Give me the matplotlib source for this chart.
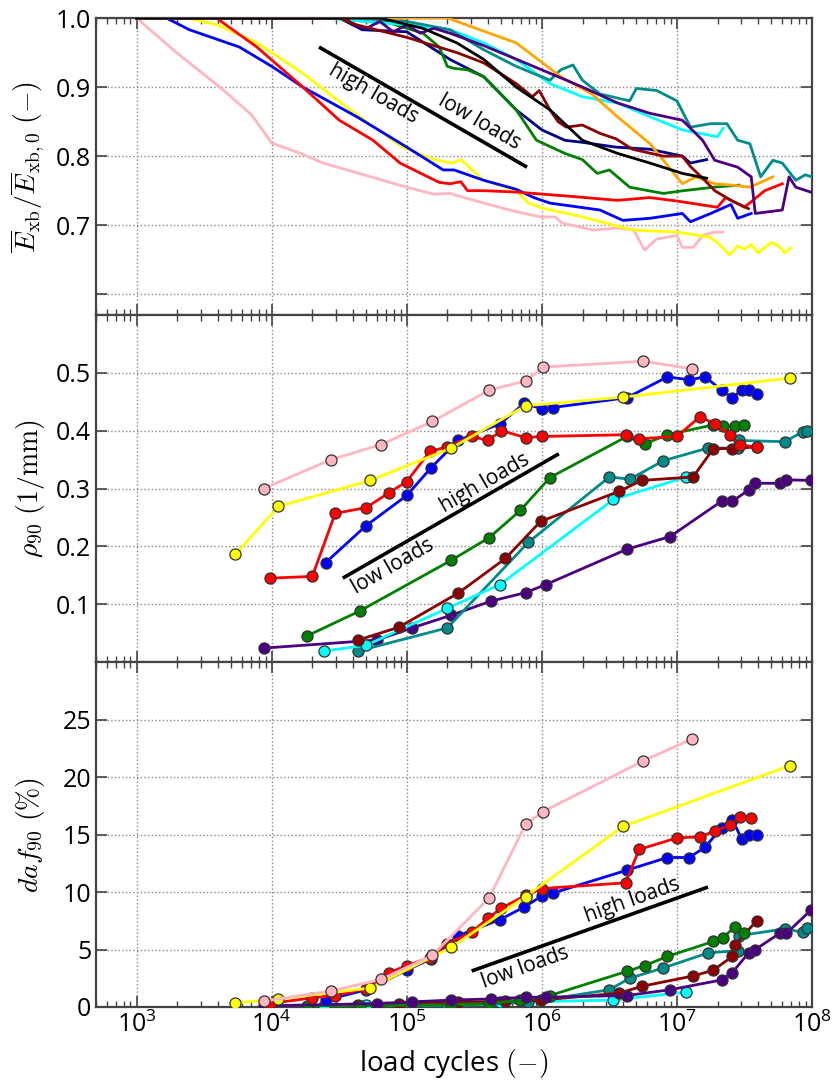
import numpy as np
import matplotlib
matplotlib.use("Agg")
import matplotlib.pyplot as plt
from matplotlib.ticker import LogLocator, NullFormatter

plt.rcParams['font.family'] = ['Open Sans', 'DejaVu Sans']
plt.rcParams['mathtext.fontset'] = 'cm'

# ---------------- data (x given as log10 of load cycles) ----------------
# top panel: normalised stiffness
top_pink_lx = [3.0, 3.27, 3.64, 3.85, 4.0, 4.2, 4.38, 4.7, 5.0, 5.2, 5.32, 5.57, 5.8, 5.99, 6.1, 6.15, 6.38, 6.56, 6.68, 6.76, 6.85, 7.0, 7.04, 7.12, 7.19, 7.27, 7.34]
top_pink_y = [1.0, 0.954, 0.896, 0.86, 0.819, 0.805, 0.79, 0.772, 0.755, 0.745, 0.746, 0.732, 0.72, 0.712, 0.712, 0.703, 0.693, 0.696, 0.693, 0.664, 0.68, 0.685, 0.668, 0.668, 0.685, 0.69, 0.69]

top_yellow_lx = [3.37, 3.6, 3.89, 4.23, 4.58, 4.97, 5.2, 5.34, 5.4, 5.57, 5.81, 5.9, 6.0, 6.3, 6.67, 7.0, 7.24, 7.3, 7.39, 7.45, 7.5, 7.55, 7.6, 7.7, 7.75, 7.8, 7.84]
top_yellow_y = [1.0, 0.99, 0.964, 0.92, 0.867, 0.813, 0.795, 0.79, 0.795, 0.765, 0.75, 0.732, 0.725, 0.712, 0.693, 0.69, 0.683, 0.675, 0.657, 0.67, 0.665, 0.672, 0.66, 0.675, 0.67, 0.66, 0.667]

top_blue_lx = [3.22, 3.39, 3.76, 4.0, 4.23, 4.63, 5.0, 5.27, 5.35, 5.57, 5.81, 5.94, 6.06, 6.43, 6.6, 6.8, 7.04, 7.1, 7.25, 7.4, 7.45, 7.55]
top_blue_y = [1.0, 0.983, 0.958, 0.93, 0.90, 0.857, 0.813, 0.78, 0.78, 0.765, 0.752, 0.74, 0.732, 0.722, 0.707, 0.71, 0.717, 0.705, 0.717, 0.73, 0.71, 0.717]

top_red_lx = [3.59, 3.89, 4.23, 4.5, 4.75, 4.95, 5.24, 5.32, 5.4, 5.45, 5.57, 5.81, 6.2, 6.56, 6.8, 7.0, 7.3, 7.36, 7.5, 7.65, 7.78]
top_red_y = [1.0, 0.958, 0.90, 0.852, 0.823, 0.79, 0.762, 0.76, 0.763, 0.75, 0.75, 0.748, 0.742, 0.736, 0.74, 0.735, 0.726, 0.74, 0.726, 0.75, 0.76]

top_navy_lx = [3.0, 4.5, 4.67, 5.0, 5.24, 5.32, 5.57, 5.81, 6.0, 6.17, 6.3, 6.55, 6.8, 7.04, 7.1, 7.22]
top_navy_y = [1.0, 1.0, 0.983, 0.98, 0.95, 0.94, 0.915, 0.867, 0.838, 0.823, 0.82, 0.813, 0.81, 0.80, 0.79, 0.795]

top_green_lx = [3.0, 4.75, 5.12, 5.24, 5.30, 5.35, 5.45, 5.57, 5.81, 5.96, 6.17, 6.3, 6.41, 6.5, 6.65, 6.9, 7.05, 7.27, 7.46]
top_green_y = [1.0, 1.0, 0.978, 0.958, 0.93, 0.927, 0.925, 0.915, 0.867, 0.823, 0.804, 0.795, 0.775, 0.78, 0.755, 0.746, 0.75, 0.755, 0.758]

top_darkred_lx = [3.0, 4.5, 4.63, 5.0, 5.2, 5.37, 5.57, 5.81, 5.93, 5.98, 6.06, 6.12, 6.18, 6.3, 6.43, 6.55, 6.67, 6.9, 7.04, 7.1, 7.18, 7.28, 7.4, 7.53]
top_darkred_y = [1.0, 1.0, 0.99, 0.972, 0.96, 0.95, 0.935, 0.905, 0.886, 0.895, 0.867, 0.85, 0.842, 0.845, 0.833, 0.825, 0.81, 0.80, 0.80, 0.785, 0.77, 0.75, 0.736, 0.724]

top_black_lx = [3.0, 4.8, 5.12, 5.37, 5.57, 5.81, 6.06, 6.3, 6.56, 6.8, 7.04, 7.22]
top_black_y = [1.0, 1.0, 0.985, 0.964, 0.94, 0.90, 0.867, 0.823, 0.804, 0.79, 0.775, 0.768]

top_cyan_lx = [3.0, 4.38, 5.0, 5.32, 5.57, 5.81, 6.06, 6.3, 6.56, 6.8, 7.04, 7.3, 7.34]
top_cyan_y = [1.0, 1.0, 0.99, 0.983, 0.964, 0.94, 0.905, 0.886, 0.877, 0.857, 0.838, 0.828, 0.84]

top_teal_lx = [3.0, 4.6, 5.0, 5.32, 5.57, 5.81, 6.06, 6.14, 6.23, 6.3, 6.43, 6.65, 6.7, 6.85, 7.0, 7.1, 7.25, 7.37, 7.45, 7.54, 7.62, 7.71, 7.78, 7.88, 7.95, 8.0]
top_teal_y = [1.0, 1.0, 0.995, 0.983, 0.954, 0.93, 0.91, 0.925, 0.932, 0.91, 0.89, 0.88, 0.898, 0.895, 0.88, 0.842, 0.847, 0.847, 0.823, 0.818, 0.77, 0.794, 0.79, 0.765, 0.773, 0.77]

top_orange_lx = [3.0, 5.3, 5.81, 6.14, 6.37, 6.56, 6.8, 7.04, 7.14, 7.28, 7.41, 7.54, 7.71]
top_orange_y = [1.0, 1.0, 0.964, 0.915, 0.89, 0.857, 0.818, 0.76, 0.77, 0.76, 0.758, 0.755, 0.77]

top_indigo_lx = [3.0, 4.55, 4.6, 4.7, 4.8, 4.9, 5.0, 5.1, 5.2, 5.32, 5.57, 6.06, 6.3, 6.56, 6.8, 7.04, 7.19, 7.28, 7.45, 7.55, 7.58, 7.78, 7.83, 7.88, 7.99]
top_indigo_y = [1.0, 1.0, 0.99, 0.985, 0.995, 0.98, 0.99, 0.978, 0.985, 0.978, 0.96, 0.92, 0.90, 0.877, 0.862, 0.852, 0.823, 0.794, 0.784, 0.77, 0.717, 0.722, 0.77, 0.755, 0.748]

# middle panel: rho_90 (1/mm)
mid_pink_lx = [3.94, 4.44, 4.81, 5.19, 5.61, 5.88, 6.01, 6.75, 7.11]
mid_pink_y = [0.30, 0.35, 0.376, 0.416, 0.47, 0.486, 0.51, 0.52, 0.507]
mid_yellow_lx = [3.73, 4.05, 4.73, 5.33, 5.88, 6.6, 7.84]
mid_yellow_y = [0.186, 0.269, 0.314, 0.37, 0.443, 0.458, 0.491]
mid_blue_lx = [4.4, 4.7, 5.0, 5.18, 5.38, 5.69, 5.87, 6.0, 6.08, 6.63, 6.93, 7.09, 7.21, 7.33, 7.41, 7.48, 7.53, 7.59]
mid_blue_y = [0.172, 0.236, 0.288, 0.336, 0.383, 0.412, 0.447, 0.438, 0.44, 0.457, 0.493, 0.488, 0.493, 0.47, 0.457, 0.47, 0.47, 0.464]
mid_red_lx = [3.99, 4.30, 4.47, 4.70, 4.87, 5.0, 5.17, 5.30, 5.48, 5.60, 5.70, 5.88, 6.0, 6.62, 6.72, 7.0, 7.17, 7.28, 7.39, 7.47, 7.59]
mid_red_y = [0.145, 0.148, 0.257, 0.267, 0.293, 0.312, 0.364, 0.372, 0.39, 0.383, 0.40, 0.388, 0.39, 0.393, 0.386, 0.39, 0.424, 0.412, 0.393, 0.375, 0.372]
mid_green_lx = [4.26, 4.65, 5.33, 5.61, 5.84, 6.06, 6.63, 6.76, 6.93, 7.27, 7.34, 7.43, 7.50]
mid_green_y = [0.045, 0.088, 0.176, 0.215, 0.262, 0.319, 0.39, 0.377, 0.393, 0.41, 0.408, 0.408, 0.409]
mid_darkred_lx = [4.64, 4.94, 5.38, 5.73, 5.99, 6.57, 6.74, 7.12, 7.27, 7.41, 7.59]
mid_darkred_y = [0.038, 0.06, 0.119, 0.179, 0.243, 0.295, 0.314, 0.32, 0.369, 0.369, 0.372]
mid_cyan_lx = [4.39, 4.70, 5.30, 5.69, 6.53, 7.07]
mid_cyan_y = [0.019, 0.029, 0.093, 0.134, 0.281, 0.32]
mid_teal_lx = [4.64, 5.30, 5.90, 6.50, 6.65, 6.90, 7.23, 7.45, 7.46, 7.80, 7.93, 7.96]
mid_teal_y = [0.019, 0.059, 0.207, 0.32, 0.316, 0.348, 0.37, 0.37, 0.383, 0.381, 0.398, 0.40]
mid_indigo_lx = [3.94, 4.78, 5.04, 5.33, 5.62, 5.88, 6.03, 6.63, 6.95, 7.33, 7.41, 7.53, 7.58, 7.76, 7.81, 7.99]
mid_indigo_y = [0.024, 0.038, 0.059, 0.081, 0.105, 0.12, 0.134, 0.195, 0.217, 0.278, 0.278, 0.297, 0.309, 0.309, 0.315, 0.314]

# bottom panel: daf_90 (%)
bot_pink_lx = [3.94, 4.44, 4.81, 5.19, 5.61, 5.88, 6.01, 6.75, 7.11]
bot_pink_y = [0.5, 1.4, 2.4, 4.5, 9.5, 15.9, 17.0, 21.4, 23.3]
bot_yellow_lx = [3.73, 4.05, 4.73, 5.33, 5.88, 6.6, 7.84]
bot_yellow_y = [0.35, 0.7, 1.65, 5.2, 9.6, 15.7, 21.0]
bot_blue_lx = [4.4, 4.7, 5.0, 5.18, 5.38, 5.69, 5.87, 6.0, 6.08, 6.63, 6.93, 7.09, 7.21, 7.33, 7.41, 7.48, 7.53, 7.59]
bot_blue_y = [0.6, 1.5, 3.2, 4.2, 6.2, 7.6, 8.7, 9.65, 9.9, 11.9, 13.0, 13.0, 13.9, 15.6, 16.3, 14.6, 15.0, 15.0]
bot_red_lx = [3.99, 4.30, 4.47, 4.70, 4.87, 5.0, 5.17, 5.30, 5.48, 5.60, 5.70, 5.88, 6.0, 6.62, 6.72, 7.0, 7.17, 7.28, 7.39, 7.47, 7.55]
bot_red_y = [0.3, 0.8, 1.0, 1.6, 3.0, 3.6, 4.3, 5.5, 6.5, 7.7, 8.6, 9.7, 10.3, 10.8, 13.7, 14.7, 14.8, 15.3, 15.8, 16.5, 16.4]
bot_green_lx = [4.26, 4.65, 5.33, 5.61, 5.84, 6.06, 6.63, 6.76, 6.93, 7.27, 7.34, 7.43, 7.50]
bot_green_y = [0.05, 0.1, 0.2, 0.3, 0.6, 1.0, 3.1, 3.6, 4.4, 5.7, 6.0, 7.0, 6.4]
bot_darkred_lx = [4.64, 4.94, 5.38, 5.73, 5.99, 6.57, 6.74, 7.12, 7.27, 7.41, 7.43, 7.59]
bot_darkred_y = [0.2, 0.3, 0.4, 0.5, 0.6, 1.2, 1.8, 2.7, 3.2, 4.4, 5.4, 7.5]
bot_cyan_lx = [4.39, 4.70, 5.30, 5.69, 6.53, 7.07]
bot_cyan_y = [0.1, 0.2, 0.3, 0.4, 0.6, 1.3]
bot_teal_lx = [4.64, 5.30, 5.90, 6.50, 6.65, 6.90, 7.23, 7.45, 7.46, 7.80, 7.93, 7.96]
bot_teal_y = [0.1, 0.1, 0.4, 1.5, 2.5, 3.4, 4.7, 4.9, 6.2, 6.8, 6.5, 6.9]
bot_indigo_lx = [3.94, 4.78, 5.04, 5.33, 5.62, 5.88, 6.03, 6.63, 6.95, 7.33, 7.41, 7.53, 7.58, 7.76, 7.81, 7.99]
bot_indigo_y = [0.1, 0.3, 0.45, 0.6, 0.7, 0.85, 0.85, 1.0, 1.5, 2.35, 3.0, 4.7, 5.0, 6.4, 6.4, 8.4]

# trend annotations: (log10 x, y) end points of the black bars and label anchors
top_bar_lx, top_bar_y = [4.35, 5.89], [0.958, 0.784]
mid_bar_lx, mid_bar_y = [4.526, 6.126], [0.145, 0.36]
bot_bar_lx, bot_bar_y = [5.48, 7.23], [3.13, 10.43]

COL = {
    'pink': '#ffb6c1', 'yellow': '#ffff00', 'blue': '#0000ff', 'red': '#ff0000',
    'navy': '#00008b', 'green': '#008000', 'darkred': '#8b0000', 'black': '#000000',
    'cyan': '#00ffff', 'teal': '#008b8b', 'orange': '#ffa500', 'indigo': '#4b0082',
}

def X(lx):
    return np.power(10.0, np.asarray(lx, dtype=float))

fig = plt.figure(figsize=(8.32, 10.8), dpi=100)
L, W = 96 / 832, 716 / 832
ax1 = fig.add_axes([L, 1 - 315 / 1080, W, 297 / 1080])
ax2 = fig.add_axes([L, 1 - 662 / 1080, W, 347 / 1080])
ax3 = fig.add_axes([L, 1 - 1007 / 1080, W, 345 / 1080])

# ---- top panel lines ----
top_series = [
    ('pink', top_pink_lx, top_pink_y), ('yellow', top_yellow_lx, top_yellow_y),
    ('blue', top_blue_lx, top_blue_y), ('red', top_red_lx, top_red_y),
    ('navy', top_navy_lx, top_navy_y), ('green', top_green_lx, top_green_y),
    ('cyan', top_cyan_lx, top_cyan_y), ('teal', top_teal_lx, top_teal_y),
    ('orange', top_orange_lx, top_orange_y), ('indigo', top_indigo_lx, top_indigo_y),
    ('darkred', top_darkred_lx, top_darkred_y), ('black', top_black_lx, top_black_y),
]
for c, lx, y in top_series:
    ax1.plot(X(lx), y, color=COL[c], lw=2.0, zorder=3)

mk = dict(marker='o', markersize=8, markeredgecolor='#333333', markeredgewidth=0.9, lw=2.0)
mid_series = [
    ('indigo', mid_indigo_lx, mid_indigo_y), ('teal', mid_teal_lx, mid_teal_y),
    ('cyan', mid_cyan_lx, mid_cyan_y), ('darkred', mid_darkred_lx, mid_darkred_y),
    ('green', mid_green_lx, mid_green_y), ('pink', mid_pink_lx, mid_pink_y),
    ('blue', mid_blue_lx, mid_blue_y), ('red', mid_red_lx, mid_red_y),
    ('yellow', mid_yellow_lx, mid_yellow_y),
]
for c, lx, y in mid_series:
    ax2.plot(X(lx), y, color=COL[c], markerfacecolor=COL[c], zorder=3, **mk)

bot_series = [
    ('cyan', bot_cyan_lx, bot_cyan_y), ('teal', bot_teal_lx, bot_teal_y),
    ('darkred', bot_darkred_lx, bot_darkred_y), ('green', bot_green_lx, bot_green_y),
    ('indigo', bot_indigo_lx, bot_indigo_y), ('blue', bot_blue_lx, bot_blue_y),
    ('red', bot_red_lx, bot_red_y), ('yellow', bot_yellow_lx, bot_yellow_y),
    ('pink', bot_pink_lx, bot_pink_y),
]
for c, lx, y in bot_series:
    ax3.plot(X(lx), y, color=COL[c], markerfacecolor=COL[c], zorder=3, **mk)

# ---- axes styling ----
for ax in (ax1, ax2, ax3):
    ax.set_xscale('log')
    ax.set_xlim(500, 1e8)
    ax.grid(True, which='major', linestyle=':', color='#888888', lw=1.0)
    ax.xaxis.set_minor_locator(LogLocator(base=10, subs=np.arange(2, 10), numticks=20))
    ax.xaxis.set_minor_formatter(NullFormatter())
    ax.tick_params(which='both', direction='in', top=True, right=True,
                   labelsize=18, color='#444444')
    ax.tick_params(which='major', length=8, width=1.2)
    ax.tick_params(which='minor', length=4, width=1.0)
    for s in ax.spines.values():
        s.set_color('#444444')
        s.set_linewidth(1.6)

ax1.set_ylim(0.57, 1.0)
ax1.set_yticks([0.6, 0.7, 0.8, 0.9, 1.0])
ax1.set_yticklabels(['', '0.7', '0.8', '0.9', '1.0'])
ax2.set_ylim(0.0, 0.6)
ax2.set_yticks([0.1, 0.2, 0.3, 0.4, 0.5])
ax2.set_yticklabels(['0.1', '0.2', '0.3', '0.4', '0.5'])
ax3.set_ylim(0, 30)
ax3.set_yticks([0, 5, 10, 15, 20, 25])
ax3.set_yticklabels(['0', '5', '10', '15', '20', '25'])
ax1.tick_params(labelbottom=False)
ax2.tick_params(labelbottom=False)

ax1.set_ylabel(r'$\overline{E}_{\rm xb}/\overline{E}_{\rm xb,0}\ (-)$', fontsize=20)
ax2.set_ylabel(r'$\rho_{90}\ (1/{\rm mm})$', fontsize=20)
ax3.set_ylabel(r'$daf_{90}\ (\%)$', fontsize=20)
for ax in (ax1, ax2, ax3):
    ax.yaxis.set_label_coords(-0.068, 0.5)
ax3.set_xlabel(r'load cycles $(-)$', fontsize=20, labelpad=6)

# ---- trend bars with labels ----
def bar(ax, lx, y, texts):
    xs = X(lx)
    ax.plot(xs, y, color='black', lw=2.6, zorder=4, solid_capstyle='butt')
    p = ax.transData.transform(np.column_stack([xs, y]))
    ang = np.degrees(np.arctan2(p[1, 1] - p[0, 1], p[1, 0] - p[0, 0]))
    for t, tlx, ty in texts:
        ax.text(10 ** tlx, ty, t, rotation=ang, rotation_mode='anchor',
                ha='center', va='center', fontsize=15, zorder=5)

fig.canvas.draw()
bar(ax1, top_bar_lx, top_bar_y, [('high loads', 4.756, 0.89), ('low loads', 5.54, 0.849)])
bar(ax2, mid_bar_lx, mid_bar_y, [('low loads', 4.896, 0.1655), ('high loads', 5.578, 0.31)])
bar(ax3, bot_bar_lx, bot_bar_y, [('low loads', 5.874, 3.4), ('high loads', 6.667, 9.3)])

fig.savefig('out.png', dpi=100)
